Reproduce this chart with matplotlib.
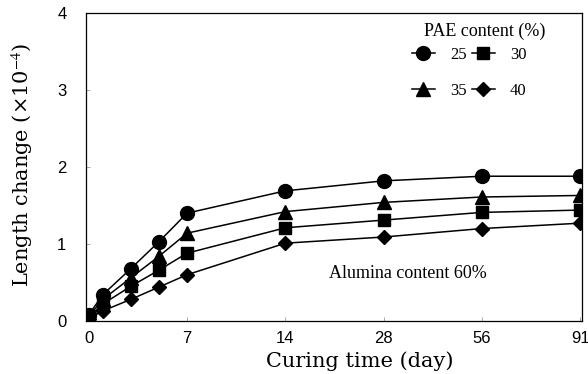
import numpy as np
import matplotlib
matplotlib.use("Agg")
import matplotlib.pyplot as plt

plt.rcParams['mathtext.fontset'] = 'stix'

# curing days and the tick days (axis is evenly spaced between tick days)
days = [0, 1, 3, 5, 7, 14, 28, 56, 91]
tick_days = [0, 7, 14, 28, 56, 91]

# length change (x10^-4) for each PAE content
pae25 = [0.08, 0.34, 0.68, 1.03, 1.40, 1.69, 1.82, 1.88, 1.88]
pae30 = [0.05, 0.22, 0.45, 0.66, 0.88, 1.21, 1.31, 1.41, 1.44]
pae35 = [0.06, 0.28, 0.56, 0.84, 1.14, 1.42, 1.54, 1.61, 1.63]
pae40 = [0.03, 0.13, 0.28, 0.44, 0.60, 1.01, 1.09, 1.20, 1.27]

def pos(d):
    return np.interp(d, tick_days, np.arange(len(tick_days)))

fig = plt.figure(figsize=(5.88, 3.74), dpi=100)
ax = fig.add_axes([0.146, 0.142, 0.844, 0.823])

x = pos(days)
kw = dict(color='black', lw=1.1)
h25, = ax.plot(x, pae25, marker='o', ms=10, label='25', **kw)
h30, = ax.plot(x, pae30, marker='s', ms=8.5, label='30', **kw)
h35, = ax.plot(x, pae35, marker='^', ms=10, label='35', **kw)
h40, = ax.plot(x, pae40, marker='D', ms=7.5, label='40', **kw)

ax.set_xlim(-0.03, 5.02)
ax.set_ylim(0, 4)
ax.set_xticks(pos(tick_days))
ax.set_xticklabels([str(d) for d in tick_days])
ax.set_yticks([0, 1, 2, 3, 4])
ax.tick_params(direction='in', length=3, width=0.6, color='#999999',
               labelsize=12, labelfontfamily='Liberation Sans')
ax.tick_params(axis='x', pad=7)
ax.tick_params(axis='y', pad=14)

fig.text(0.612, 0.033, 'Curing time (day)', family='DejaVu Serif', fontsize=15,
         ha='center', va='center')
fig.text(0.037, 0.559, r'Length change (×10$^{-4}$)', family='DejaVu Serif', fontsize=15,
         ha='center', va='center', rotation=90)

for s in ax.spines.values():
    s.set_linewidth(0.9)

ax.text(0.804, 0.941, 'PAE content (%)', transform=ax.transAxes,
        family='Liberation Serif', fontsize=13, ha='center', va='center')
ax.legend(handles=[h25, h35, h30, h40], ncol=2, frameon=False,
          loc='upper left', bbox_to_anchor=(0.64, 0.918), borderpad=0,
          prop={'family': 'Liberation Serif', 'size': 12},
          handlelength=1.4, columnspacing=0.3, handletextpad=0.9, labelspacing=1.2)

ax.text(3.25, 0.62, 'Alumina content 60%', family='Liberation Serif', fontsize=13,
        ha='center', va='center')

fig.savefig('out.png', dpi=100)
